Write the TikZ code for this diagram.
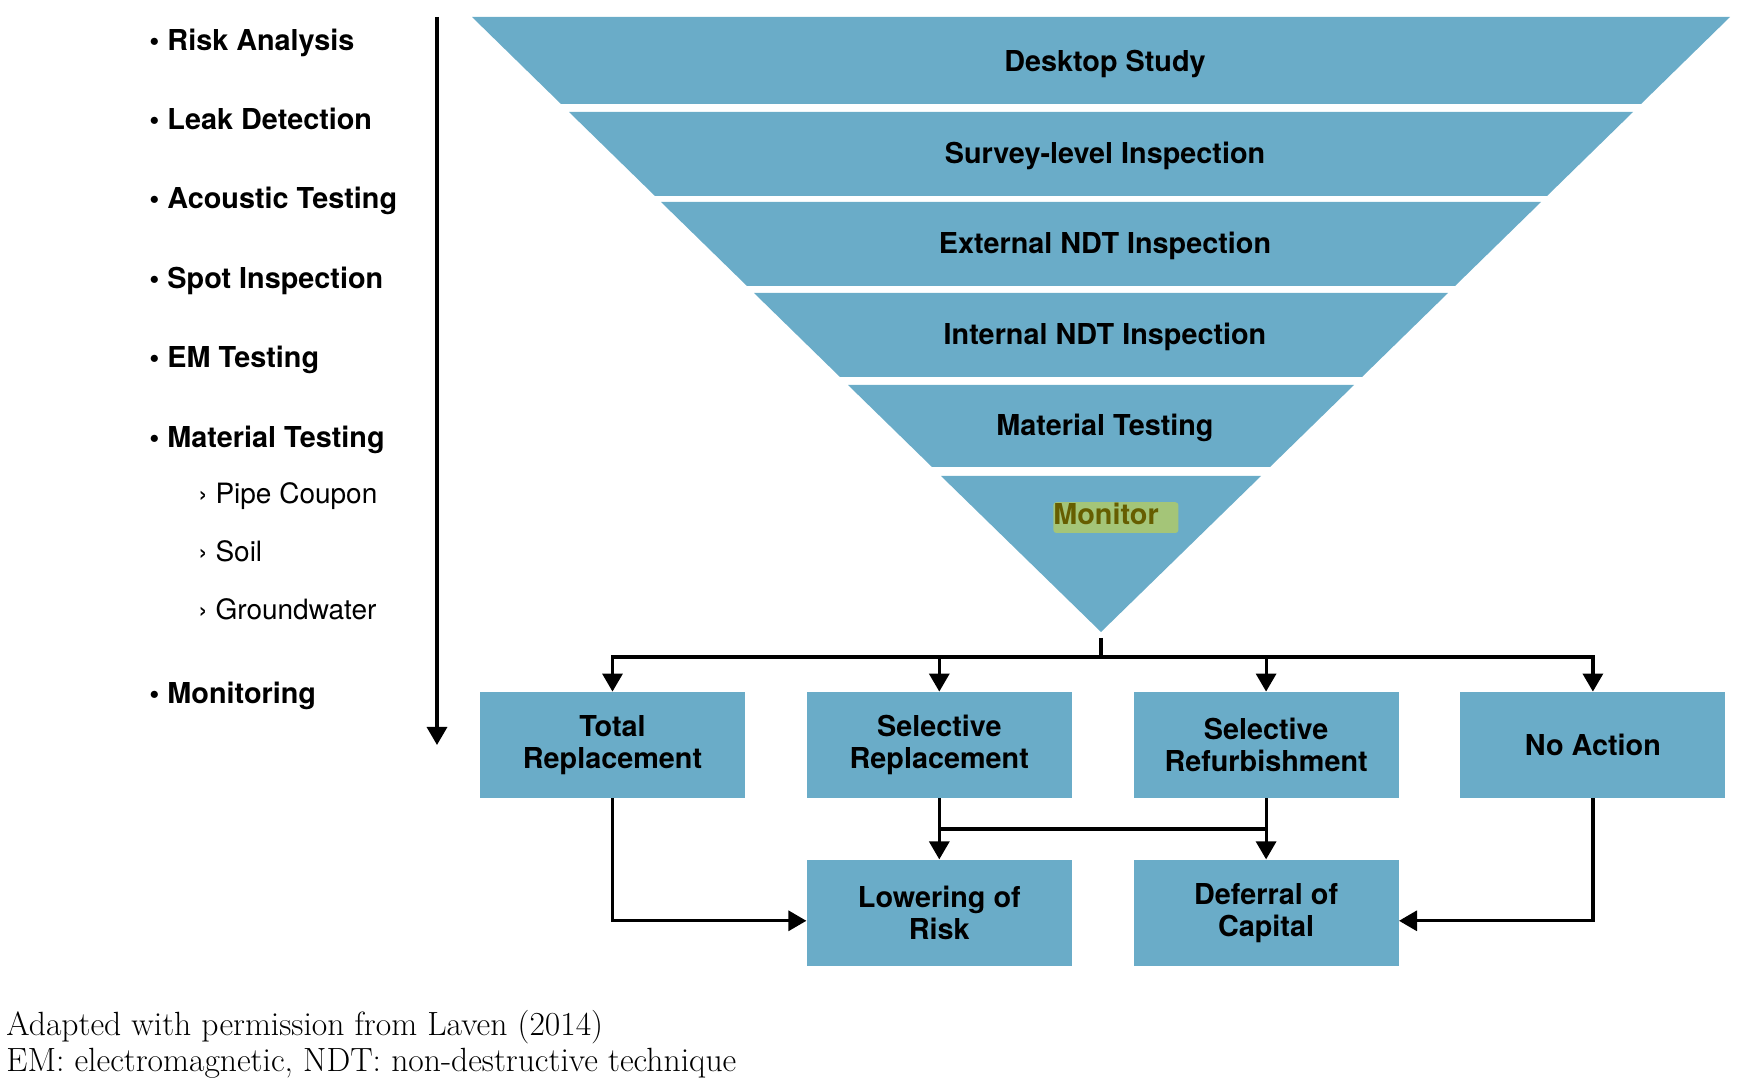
\documentclass[tikz,border=0pt]{standalone}
\usepackage{fontspec}
\setsansfont{TeX Gyre Heros}
\usepackage{xcolor}
\usepackage{tikz}
\usetikzlibrary{arrows.meta, positioning, calc}

\definecolor{pipeblue}{RGB}{106,172,200}
\definecolor{hiliteback}{RGB}{164,197,120}
\definecolor{hilitetext}{RGB}{102,94,0}

\begin{document}
\begin{tikzpicture}[
    x=0.5pt, y=-0.5pt,
    node distance=30.5pt,
    band/.style={
        fill=pipeblue
    },
    bandlabel/.style={
        font=\sffamily\bfseries\fontsize{14.4}{16.2}\selectfont,
        anchor=base
    },
    hilite/.style={
        fill=hiliteback,
        text=hilitetext,
        rounded corners=1.5pt,
        font=\sffamily\bfseries\fontsize{14.4}{16.2}\selectfont,
        anchor=base west,
        text height=10.4pt,
        text depth=3pt,
        inner xsep=0pt,
        inner ysep=1pt,
        text width=62.5pt,
        align=left
    },
    box/.style={
        fill=pipeblue,
        align=center,
        font=\sffamily\bfseries\fontsize{14.4}{16}\selectfont,
        minimum width=132.5pt,
        minimum height=53pt
    },
    item/.style={
        font=\sffamily\bfseries\fontsize{14.4}{16.2}\selectfont,
        anchor=base west,
        inner sep=0pt
    },
    subitem/.style={
        font=\sffamily\fontsize{14}{16}\selectfont,
        anchor=base west,
        inner sep=0pt
    },
    note/.style={
        font=\rmfamily\fontsize{16.8}{19}\selectfont,
        anchor=base west,
        inner sep=0pt
    },
    arrow/.style={
        -{Triangle[length=9pt, width=10pt]},
        line width=1.6pt
    },
    link/.style={
        line width=1.6pt
    }
]

\useasboundingbox (0,0) rectangle (1753,1080);

% funnel
\fill[band] (472,17) -- (1730,17) -- (1641,104) -- (561,104) -- cycle;
\fill[band] (569,112) -- (1633,112) -- (1547,196) -- (655,196) -- cycle;
\fill[band] (661,202) -- (1541,202) -- (1455,286) -- (747,286) -- cycle;
\fill[band] (754,293) -- (1448,293) -- (1362,377) -- (840,377) -- cycle;
\fill[band] (848,385) -- (1354,385) -- (1270,467) -- (932,467) -- cycle;
\fill[band] (941,476) -- (1261,476) -- (1101,632) -- cycle;

\node[bandlabel] (desk) at (1105,72) {Desktop Study};
\node[bandlabel] (survey) at (1105,164) {Survey-level Inspection};
\node[bandlabel] (extndt) at (1105,254) {External NDT Inspection};
\node[bandlabel] (intndt) at (1105,345) {Internal NDT Inspection};
\node[bandlabel] (mattest) at (1105,436) {Material Testing};
\node[hilite] (monitor) at (1053,525) {Monitor};

% list of methods
\node[item] (risk) at (149,51) {• Risk Analysis};
\node[item] (leak) at (149,130) {• Leak Detection};
\node[item] (acoustic) at (149,209) {• Acoustic Testing};
\node[item] (spot) at (149,289) {• Spot Inspection};
\node[item] (emtest) at (149,368) {• EM Testing};
\node[item] (material) at (149,448) {• Material Testing};
\node[subitem] (coupon) at (198,504) {› Pipe Coupon};
\node[subitem] (soil) at (198,562) {› Soil};
\node[subitem] (ground) at (198,620) {› Groundwater};
\node[item] (monitoring) at (149,704) {• Monitoring};

\coordinate (ltop) at (437,17);
\coordinate (lbot) at (437,745);
\draw[arrow] (ltop) -- (lbot);

% outcomes
\node[box] (total) at (612.5,745) {Total\\Replacement};
\node[box, right=of total] (selrep) {Selective\\Replacement};
\node[box, right=of selrep] (selref) {Selective\\Refurbishment};
\node[box, right=of selref] (noact) {No Action};
\node[box, below=of selrep] (lower) {Lowering of\\Risk};
\node[box, below=of selref] (defer) {Deferral of\\Capital};

\coordinate (apex) at (1101,638);
\coordinate (split) at (1101,657);
\draw[link] (apex) -- (split);
\draw[arrow] (split) -| (total);
\draw[arrow] (split) -| (selrep);
\draw[arrow] (split) -| (selref);
\draw[arrow] (split) -| (noact);

\coordinate (joinl) at ($(selrep.south)!0.5!(lower.north)$);
\coordinate (joinr) at ($(selref.south)!0.5!(defer.north)$);
\draw[arrow] (selrep) -- (lower);
\draw[arrow] (selref) -- (defer);
\draw[link] (joinl) -- (joinr);
\draw[arrow] (total) |- ([yshift=-4pt]lower.west);
\draw[arrow] (noact) |- ([yshift=-4pt]defer.east);

% source notes
\node[note] (source) at (6,1035) {Adapted with permission from Laven (2014)};
\node[note] (abbrev) at (6,1071) {EM: electromagnetic, NDT: non-destructive technique};

\end{tikzpicture}
\end{document}
